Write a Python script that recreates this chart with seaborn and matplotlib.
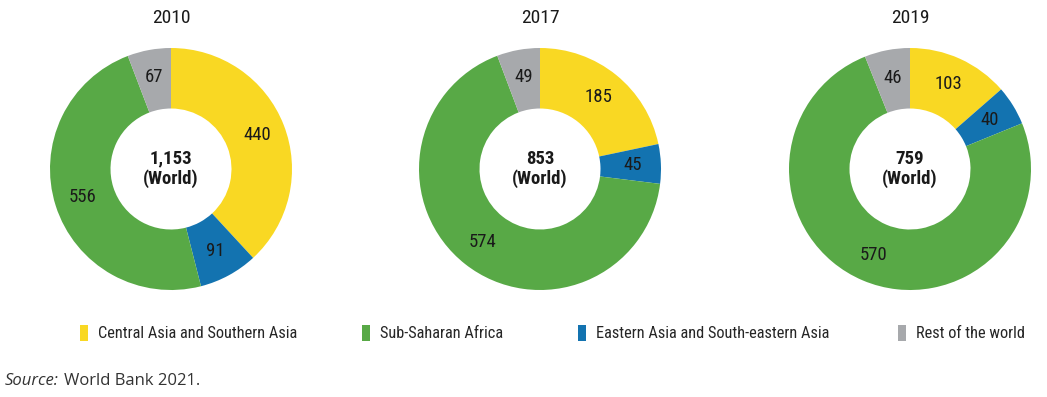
import numpy as np
import pandas as pd
import seaborn as sns
import matplotlib.pyplot as plt
from matplotlib.patches import Patch
from matplotlib import font_manager

# ----------------------------
# Data
# ----------------------------
years = ["2010", "2017", "2019"]
regions = ["Central Asia and Southern Asia", "Eastern Asia and South-eastern Asia",
           "Sub-Saharan Africa", "Rest of the world"]
central_south = [440, 185, 103]
east_southeast = [91, 45, 40]
sub_saharan = [556, 574, 570]
rest_world = [67, 49, 46]
world_totals = ["1,153", "853", "759"]

legend_order = ["Central Asia and Southern Asia", "Sub-Saharan Africa",
                "Eastern Asia and South-eastern Asia", "Rest of the world"]

colors = {
    "Central Asia and Southern Asia": "#F9D823",
    "Eastern Asia and South-eastern Asia": "#1373B0",
    "Sub-Saharan Africa": "#58A946",
    "Rest of the world": "#A7A9AC",
}

df = pd.DataFrame({
    "year": years,
    regions[0]: central_south,
    regions[1]: east_southeast,
    regions[2]: sub_saharan,
    regions[3]: rest_world,
}).set_index("year")

# ----------------------------
# Style
# ----------------------------
sns.set_theme(style="white")
names = {f.name for f in font_manager.fontManager.ttflist}
narrow = [n for n in ["Liberation Sans Narrow", "Roboto Condensed", "Open Sans Condensed",
                      "DejaVu Sans Condensed"] if n in names]
plt.rcParams["font.family"] = narrow + ["DejaVu Sans"]
plt.rcParams["font.stretch"] = "condensed"

fig = plt.figure(figsize=(10.47, 3.97), dpi=100)

centers_x = [171, 540, 910]
cy = 169
r_px = 121
W, H = 1047, 397

for i, yr in enumerate(years):
    ax = fig.add_axes([(centers_x[i] - r_px) / W, 1 - (cy + r_px) / H,
                       2 * r_px / W, 2 * r_px / H])
    vals = df.loc[yr, regions].values
    wedges, texts = ax.pie(
        vals,
        colors=[colors[r] for r in regions],
        startangle=90,
        counterclock=False,
        radius=1,
        labels=[str(v) for v in vals],
        labeldistance=0.77,
        wedgeprops=dict(width=0.5, linewidth=0),
        textprops=dict(fontsize=13.5, color="#1a1a1a", ha="center", va="center"),
    )
    for t in texts:
        t.set_horizontalalignment("center")
    ax.text(0, 0, f"{world_totals[i]}\n(World)", ha="center", va="center",
            fontsize=13.5, fontweight="bold", color="#1a1a1a", linespacing=1.15)
    ax.set_xlim(-1, 1)
    ax.set_ylim(-1, 1)
    ax.set_aspect("equal")
    fig.text(centers_x[i] / W, 1 - 18 / H, yr, ha="center", va="center",
             fontsize=14, color="#1a1a1a")

# legend entries placed one by one to follow the reference spacing
legend_x = [80, 362, 578, 898]
for lx, r in zip(legend_x, legend_order):
    fig.legend([Patch(facecolor=colors[r], edgecolor="none")], [r], loc="center left",
               bbox_to_anchor=(lx / W, 1 - 333 / H), frameon=False, fontsize=11.8,
               handlelength=0.5, handleheight=1.2, handletextpad=0.6, borderaxespad=0,
               borderpad=0)

fig.text(5 / W, 1 - 381 / H, "Source:", ha="left", va="center", fontsize=12,
         style="italic", family=["Open Sans", "DejaVu Sans"], stretch="normal", color="#333333")
fig.text(64 / W, 1 - 381 / H, "World Bank 2021.", ha="left", va="center", fontsize=12,
         family=["Open Sans", "DejaVu Sans"], stretch="normal", color="#333333")

fig.savefig("out.png", dpi=100)
plt.close()
